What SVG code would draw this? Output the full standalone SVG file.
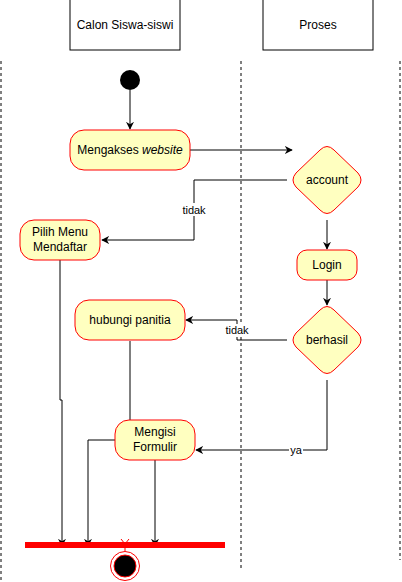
<svg xmlns="http://www.w3.org/2000/svg" width="402" height="582" viewBox="0 0 402 582">
<defs>
<style>
.lane{fill:#fff;stroke:#000;stroke-width:1}
.dash{stroke:#000;stroke-width:1;stroke-dasharray:3,3;fill:none}
.act{fill:#ffffc0;stroke:#ff0000;stroke-width:1}
.t{font-family:"Liberation Sans",Arial,sans-serif;font-size:12px;fill:#000;text-anchor:middle}
.lbl{font-family:"Liberation Sans",Arial,sans-serif;font-size:11px;fill:#000;text-anchor:middle}
.edge{fill:none;stroke:#000;stroke-width:1}
</style>
<marker id="arr" viewBox="0 0 10 10" refX="9" refY="5" markerWidth="8" markerHeight="8" orient="auto" markerUnits="userSpaceOnUse"><path d="M0,0 L10,5 L0,10 L3,5 Z" fill="#000"/></marker>
<marker id="arrR" viewBox="0 0 10 10" refX="9" refY="5" markerWidth="6" markerHeight="6" orient="auto" markerUnits="userSpaceOnUse"><path d="M0,0 L10,5 L0,10" fill="none" stroke="#ff0000"/></marker>
</defs>
<rect width="402" height="582" fill="#fff"/>
<g id="lanes">
<rect class="lane" x="70" y="-1" width="110" height="51"/>
<text class="t" x="125" y="29">Calon Siswa-siswi</text>
<rect class="lane" x="263" y="-1" width="110" height="51"/>
<text class="t" x="318" y="29">Proses</text>
<line class="dash" x1="1" y1="61" x2="1" y2="582"/>
<line class="dash" x1="241" y1="61" x2="241" y2="570"/>
<line class="dash" x1="400" y1="61" x2="400" y2="560"/>
</g>
<g id="connectors">
<path class="edge" d="M130,90 L130,129" marker-end="url(#arr)"/>
<path class="edge" d="M190,150 L292,150" marker-end="url(#arr)"/>
<path class="edge" d="M287,180 L194,180 L194,240 L102,240" marker-end="url(#arr)"/>
<rect x="180" y="203" width="28" height="13" fill="#fff"/>
<text class="lbl" x="194" y="214">tidak</text>
<path class="edge" d="M327,220 L327,249" marker-end="url(#arr)"/>
<path class="edge" d="M327,280 L327,305" marker-end="url(#arr)"/>
<path class="edge" d="M287,340 L237,340 L237,320 L186,320" marker-end="url(#arr)"/>
<rect x="223" y="324" width="28" height="13" fill="#fff"/>
<text class="lbl" x="237" y="334">tidak</text>
<path class="edge" d="M327,380 L327,450 L196,450" marker-end="url(#arr)"/>
<rect x="289" y="444" width="14" height="13" fill="#fff"/>
<text class="lbl" x="296" y="454">ya</text>
<path class="edge" d="M60,260 L60,400 L62,400 L62,546" marker-end="url(#arr)"/>
<path class="edge" d="M130,341 L130,440 L88,440 L88,546" marker-end="url(#arr)" stroke="#666"/>
<path class="edge" d="M155,460 L155,546" marker-end="url(#arr)"/>
<path d="M125,548 L125,551" stroke="#ff0000" fill="none"/>
<path d="M121,539 L125,544 L129,539" stroke="#ff0000" fill="none"/>
</g>
<g id="start"><circle cx="130" cy="80" r="10" fill="#000"/></g>
<g id="mengakses">
<rect class="act" x="70" y="130" width="120" height="40" rx="14"/>
<text class="t" x="130" y="154">Mengakses <tspan font-style="italic">website</tspan></text>
</g>
<g id="account">
<path class="act" d="M320,150 Q327,143 334,150 L358,173 Q364,180 358,187 L334,210 Q327,217 320,210 L296,187 Q290,180 296,173 Z"/>
<text class="t" x="327" y="184">account</text>
</g>
<g id="pilih">
<rect class="act" x="20" y="220" width="80" height="40" rx="14"/>
<text class="t" x="60" y="236">Pilih Menu</text>
<text class="t" x="60" y="251">Mendaftar</text>
</g>
<g id="login">
<rect class="act" x="297" y="250" width="60" height="30" rx="10"/>
<text class="t" x="327" y="269">Login</text>
</g>
<g id="berhasil">
<path class="act" d="M320,310 Q327,303 334,310 L358,333 Q364,340 358,347 L334,370 Q327,377 320,370 L296,347 Q290,340 296,333 Z"/>
<text class="t" x="327" y="344">berhasil</text>
</g>
<g id="hubungi">
<rect class="act" x="75" y="300" width="110" height="40" rx="14"/>
<text class="t" x="130" y="324">hubungi panitia</text>
</g>
<g id="mengisi">
<rect class="act" x="115" y="420" width="80" height="40" rx="14"/>
<text class="t" x="155" y="436">Mengisi</text>
<text class="t" x="155" y="451">Formulir</text>
</g>
<g id="bar"><rect x="25" y="542" width="200" height="6" fill="#ff0000"/></g>
<g id="end">
<circle cx="125" cy="566" r="14.5" fill="#fff" stroke="#ff0000"/>
<circle cx="125" cy="566" r="11" fill="#000" stroke="#ff0000"/>
</g>
</svg>
